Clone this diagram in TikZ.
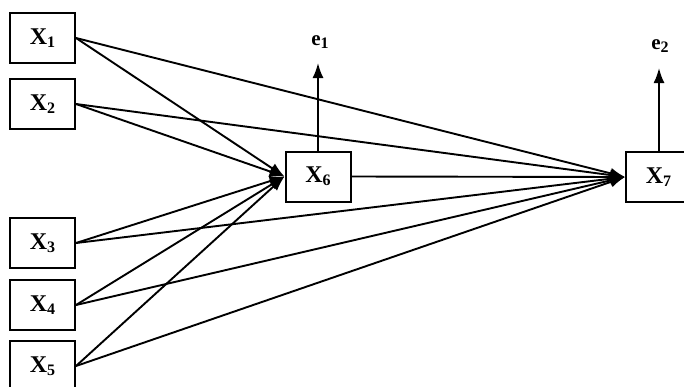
\documentclass[tikz,border=0pt]{standalone}
\usepackage{fontspec}
\setmainfont{Liberation Serif}
\usetikzlibrary{arrows.meta}
\newcommand{\sbx}[1]{\raisebox{-3pt}{\fontsize{16}{16}\selectfont #1}}
\begin{document}
\begin{tikzpicture}[x=1pt,y=-1pt,
  var/.style={draw, line width=2pt, minimum width=65pt, minimum height=50pt, inner sep=0pt, font=\bfseries\fontsize{24}{26}\selectfont},
  lbl/.style={inner sep=0pt, font=\bfseries\fontsize{21}{23}\selectfont},
  path/.style={line width=1.9pt, -{Latex[length=15pt,width=11pt]}}]
\useasboundingbox (0,0) rectangle (684,386);
\fill[white] (0,0) rectangle (684,386);
\node[var] (x1) at (42.5,38) {X\sbx{1}};
\node[var] (x2) at (42.5,104) {X\sbx{2}};
\node[var] (x3) at (42.5,243) {X\sbx{3}};
\node[var] (x4) at (42.5,305) {X\sbx{4}};
\node[var] (x5) at (42.5,366) {X\sbx{5}};
\node[var] (x6) at (318,176.5) {X\sbx{6}};
\node[var] (x7) at (658.5,177) {X\sbx{7}};
\node[lbl] (e1) at (320,42) {e\sbx{1}};
\node[lbl] (e2) at (660,46) {e\sbx{2}};
\coordinate (t1) at (318,63);
\coordinate (t2) at (659,68);
\foreach \s in {x1,x2,x3,x4,x5} {
  \draw[path] (\s.east) -- (x6.west);
  \draw[path] (\s.east) -- (x7.west);
}
\draw[path] (x6.east) -- (x7.west);
\draw[path] (x6.north) -- (t1);
\draw[path] (x7.north -| t2) -- (t2);
\end{tikzpicture}
\end{document}
